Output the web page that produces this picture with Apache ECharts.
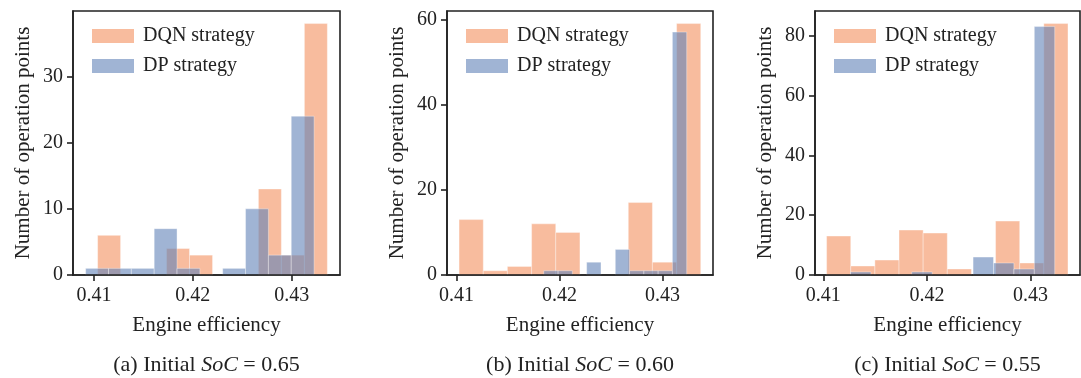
<!DOCTYPE html>
<html lang="en">
<head>
<meta charset="UTF-8">
<title>Engine efficiency histograms</title>
<script src="https://cdn.jsdelivr.net/npm/echarts@6/dist/echarts.min.js"></script>
<style>
    html, body { margin: 0; padding: 0; background: #fff; }
    #chart { width: 1081px; height: 378px; }
</style>
</head>
<body>
<div id="chart"></div>
<script>
    // bin edges + counts (10 bins per series)
    var dqnEdgesA = [0.41037, 0.41269, 0.41502, 0.41734, 0.41966, 0.42199, 0.42431, 0.42663, 0.42895, 0.43128, 0.43360];
    var dqnCountsA = [6, 0, 0, 4, 3, 0, 0, 13, 3, 38];
    var dpEdgesA = [0.40916, 0.41147, 0.41378, 0.41609, 0.41840, 0.42071, 0.42302, 0.42533, 0.42764, 0.42995, 0.43226];
    var dpCountsA = [1, 1, 1, 7, 1, 0, 1, 10, 3, 24];

    var dqnEdgesB = [0.41026, 0.41261, 0.41495, 0.41730, 0.41964, 0.42199, 0.42433, 0.42668, 0.42902, 0.43137, 0.43371];
    var dqnCountsB = [13, 1, 2, 12, 10, 0, 0, 17, 3, 59];
    var dpEdgesB = [0.41848, 0.41987, 0.42125, 0.42264, 0.42403, 0.42542, 0.42680, 0.42819, 0.42958, 0.43096, 0.43235];
    var dpCountsB = [1, 1, 0, 3, 0, 6, 1, 1, 1, 57];

    var dqnEdgesC = [0.41032, 0.41265, 0.41498, 0.41731, 0.41964, 0.42197, 0.42430, 0.42663, 0.42896, 0.43129, 0.43362];
    var dqnCountsC = [13, 3, 5, 15, 14, 2, 0, 18, 4, 84];
    var dpEdgesC = [0.41263, 0.41460, 0.41657, 0.41854, 0.42051, 0.42249, 0.42446, 0.42643, 0.42840, 0.43037, 0.43234];
    var dpCountsC = [1, 0, 0, 1, 0, 0, 6, 4, 2, 83];

    var xTicks = [0.41, 0.42, 0.43];
    var yTicksA = [0, 10, 20, 30];
    var yTicksB = [0, 20, 40, 60];
    var yTicksC = [0, 20, 40, 60, 80];
    var captions = ['(a) Initial {i|SoC} = 0.65', '(b) Initial {i|SoC} = 0.60', '(c) Initial {i|SoC} = 0.55'];

    var FONT = 'Liberation Serif';
    var INK = '#222';
    var ORANGE = 'rgba(243,143,93,0.6)';
    var BLUE = 'rgba(97,130,183,0.6)';

    var panels = [
        { left: 73, width: 267, xMin: 0.40788, xMax: 0.43488, yMax: 39.9, yStep: 10, yTicks: yTicksA,
          dqn: [dqnEdgesA, dqnCountsA], dp: [dpEdgesA, dpCountsA] },
        { left: 447, width: 266, xMin: 0.40909, xMax: 0.43490, yMax: 61.95, yStep: 20, yTicks: yTicksB,
          dqn: [dqnEdgesB, dqnCountsB], dp: [dpEdgesB, dpCountsB] },
        { left: 815, width: 265, xMin: 0.40920, xMax: 0.43478, yMax: 88.2, yStep: 20, yTicks: yTicksC,
          dqn: [dqnEdgesC, dqnCountsC], dp: [dpEdgesC, dpCountsC] }
    ];

    function bins(edges, counts) {
        var out = [];
        for (var i = 0; i < counts.length; i++) {
            out.push([edges[i], edges[i + 1], counts[i]]);
        }
        return out;
    }

    function renderBin(params, api) {
        if (!api.value(2)) return null;
        var a = api.coord([api.value(0), api.value(2)]);
        var b = api.coord([api.value(1), 0]);
        return {
            type: 'rect',
            shape: { x: a[0], y: a[1], width: b[0] - a[0], height: b[1] - a[1] },
            style: { fill: api.visual('color'), stroke: 'rgba(255,255,255,0.45)', lineWidth: 0.8 }
        };
    }

    var option = { animation: false, grid: [], xAxis: [], yAxis: [], series: [], legend: [], graphic: [] };

    panels.forEach(function (p, i) {
        option.grid.push({
            left: p.left, top: 11, width: p.width, height: 264,
            show: true, borderColor: INK, borderWidth: 1.6, backgroundColor: '#fff'
        });
        option.xAxis.push({
            type: 'value', gridIndex: i, min: p.xMin, max: p.xMax, z: 5,
            name: 'Engine efficiency', nameLocation: 'middle', nameGap: 40,
            nameTextStyle: { fontFamily: FONT, fontSize: 21, color: INK },
            splitLine: { show: false },
            axisLine: { show: true, lineStyle: { color: INK, width: 1.6 } },
            axisTick: { show: true, length: 6, lineStyle: { color: INK, width: 1.6 }, customValues: xTicks },
            axisLabel: { margin: 11, fontFamily: FONT, fontSize: 20, color: INK, customValues: xTicks,
                formatter: function (v) { return v.toFixed(2); } }
        });
        option.yAxis.push({
            type: 'value', gridIndex: i, min: 0, max: p.yMax, interval: p.yStep, z: 5,
            name: 'Number of operation points', nameLocation: 'middle', nameGap: 39,
            nameTextStyle: { fontFamily: FONT, fontSize: 21, color: INK },
            splitLine: { show: false },
            axisLine: { show: true, lineStyle: { color: INK, width: 1.6 } },
            axisTick: { show: true, length: 6, lineStyle: { color: INK, width: 1.6 }, customValues: p.yTicks },
            axisLabel: { margin: 10, fontFamily: FONT, fontSize: 20, color: INK, customValues: p.yTicks }
        });
        option.series.push({
            type: 'custom', name: 'DQN strategy', xAxisIndex: i, yAxisIndex: i, z: 2,
            itemStyle: { color: ORANGE },
            encode: { x: [0, 1], y: 2 },
            renderItem: renderBin,
            data: bins(p.dqn[0], p.dqn[1])
        });
        option.series.push({
            type: 'custom', name: 'DP strategy', xAxisIndex: i, yAxisIndex: i, z: 3,
            itemStyle: { color: BLUE },
            encode: { x: [0, 1], y: 2 },
            renderItem: renderBin,
            data: bins(p.dp[0], p.dp[1])
        });
        option.legend.push({
            data: ['DQN strategy', 'DP strategy'], orient: 'vertical',
            left: p.left + 19, top: 26, padding: 0, itemGap: 10,
            icon: 'rect', itemWidth: 42, itemHeight: 14, selectedMode: false,
            textStyle: { fontFamily: FONT, fontSize: 20, color: INK, padding: [0, 0, 0, 4] }
        });
        option.graphic.push({
            type: 'text', x: p.left + p.width / 2, y: 365,
            style: {
                text: captions[i], fontFamily: FONT, fontSize: 22, fill: INK,
                align: 'center', verticalAlign: 'middle',
                rich: { i: { fontFamily: FONT, fontSize: 22, fontStyle: 'italic', fill: INK } }
            }
        });
    });

    var chart = echarts.init(document.getElementById('chart'));
    chart.setOption(option);
</script>
</body>
</html>
